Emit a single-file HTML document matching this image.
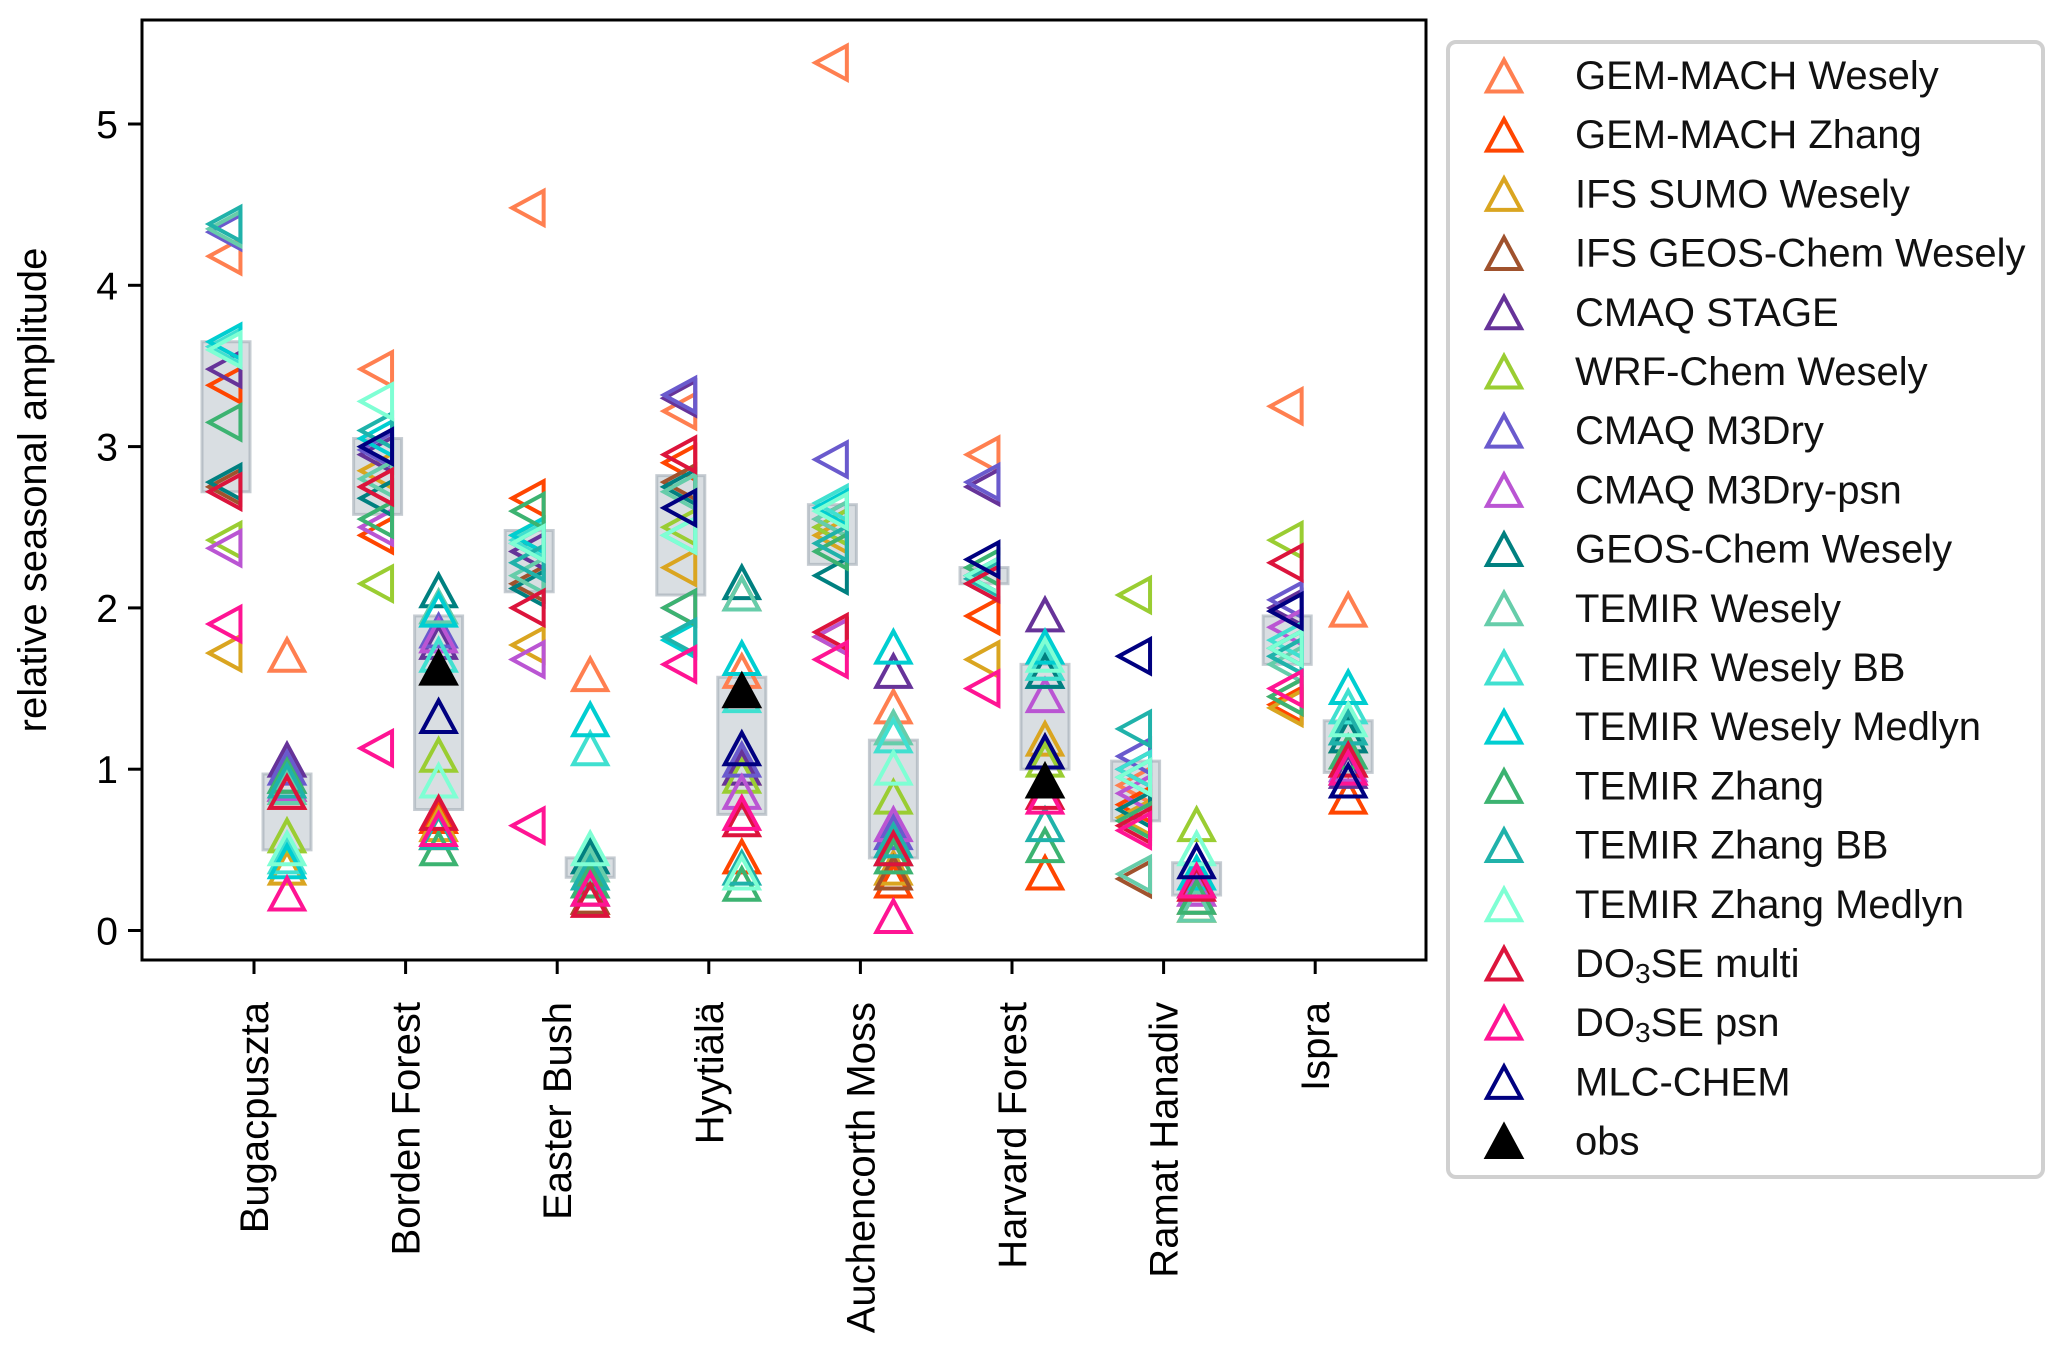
<!DOCTYPE html>
<html><head><meta charset="utf-8"><style>
html,body{margin:0;padding:0;background:#fff;}
svg{display:block;font-family:"Liberation Sans",Arial,sans-serif;}
</style></head><body>
<svg id="chart" width="2067" height="1352" viewBox="0 0 2067 1352">
<g id="boxes"></g>
<g id="marks"></g>
<g id="axes"></g>
<g id="legend"></g>
</svg>
<script>
const sites = ["Bugacpuszta","Borden Forest","Easter Bush","Hyytiälä","Auchencorth Moss","Harvard Forest","Ramat Hanadiv","Ispra"];
const yTicks = [0,1,2,3,4,5];
const seriesNames = ["GEM-MACH Wesely","GEM-MACH Zhang","IFS SUMO Wesely","IFS GEOS-Chem Wesely","CMAQ STAGE","WRF-Chem Wesely","CMAQ M3Dry","CMAQ M3Dry-psn","GEOS-Chem Wesely","TEMIR Wesely","TEMIR Wesely BB","TEMIR Wesely Medlyn","TEMIR Zhang","TEMIR Zhang BB","TEMIR Zhang Medlyn","DO3SE multi","DO3SE psn","MLC-CHEM","obs"];
const seriesColors = ["#FF7F50","#FF4500","#DAA520","#A0522D","#663399","#9ACD32","#6A5ACD","#BA55D3","#008080","#66CDAA","#40E0D0","#00CED1","#3CB371","#20B2AA","#7FFFD4","#DC143C","#FF1493","#000080","#000000"];
// left column (left-pointing triangles), per series, per site
const leftVals = [
[4.18,3.48,4.48,3.22,5.38,2.95,0.90,3.25],
[3.38,2.45,2.68,2.90,1.82,1.95,0.78,1.40],
[1.72,2.85,1.77,2.25,2.45,1.68,0.70,1.38],
[2.75,2.75,2.15,2.78,2.50,2.20,0.32,1.45],
[3.48,2.95,2.35,3.30,2.55,2.75,1.00,2.00],
[2.42,2.15,2.45,2.50,2.50,2.25,2.08,2.42],
[4.33,2.98,2.40,3.32,2.92,2.78,1.08,2.05],
[2.37,2.50,1.68,2.00,1.82,2.20,0.85,1.88],
[2.78,2.68,2.12,2.75,2.20,2.15,0.75,1.75],
[4.35,2.80,2.20,2.72,2.55,2.20,0.35,1.65],
[3.62,3.10,2.42,2.45,2.65,2.25,1.00,1.80],
[3.65,3.05,2.45,1.80,2.62,2.20,0.95,1.70],
[3.15,2.55,2.60,2.00,2.35,2.25,0.68,1.45],
[4.38,3.10,2.28,1.82,2.40,2.18,1.25,1.70],
[3.60,3.28,2.40,2.45,2.60,2.20,0.95,1.75],
[2.72,2.75,2.00,2.95,1.85,2.15,0.65,2.28],
[1.90,1.13,0.65,1.65,1.68,1.50,0.62,1.50],
[null,3.00,null,2.62,null,2.30,1.70,1.98],
[null,null,null,null,null,null,null,null]];
// right column (up triangles), per series, per site
const rightVals = [
[1.70,0.70,1.58,1.60,1.38,null,0.25,1.98],
[0.85,0.70,0.20,0.45,0.30,0.35,0.30,0.82],
[0.38,0.65,0.25,1.00,0.38,1.18,0.15,1.00],
[0.90,0.60,0.20,2.08,0.35,1.10,0.20,1.05],
[1.05,1.78,0.25,1.00,1.60,1.95,0.30,0.98],
[0.58,1.08,0.40,0.95,0.82,1.05,0.65,1.20],
[1.00,1.85,0.30,1.05,0.60,1.60,0.25,1.00],
[0.90,1.82,0.25,0.85,0.65,1.45,0.25,1.02],
[0.95,2.10,0.45,2.15,0.50,1.60,0.30,1.20],
[0.88,2.00,0.40,2.08,1.25,1.65,0.15,1.25],
[0.45,1.70,1.12,1.45,1.20,1.65,0.30,1.38],
[0.42,1.98,1.30,1.68,1.75,1.75,0.35,1.50],
[0.95,0.50,0.30,0.28,0.45,0.52,0.20,1.10],
[0.92,0.60,0.35,0.38,0.55,0.65,0.30,1.25],
[0.50,0.92,0.50,0.35,1.00,1.70,0.50,1.30],
[0.85,0.72,0.18,0.68,0.50,0.85,0.28,1.05],
[0.22,0.62,0.25,0.72,0.08,0.82,0.30,1.00],
[null,1.32,null,1.12,null,1.10,0.42,0.92],
[null,1.62,null,1.48,null,0.92,null,null]];
const boxLeftLow  = [2.72,2.58,2.10,2.08,2.27,2.15,0.68,1.65];
const boxLeftHigh = [3.65,3.05,2.48,2.82,2.64,2.25,1.05,1.95];
const boxRightLow  = [0.50,0.75,0.33,0.72,0.45,1.00,0.22,0.98];
const boxRightHigh = [0.97,1.95,0.45,1.57,1.18,1.65,0.42,1.30];

const NS="http://www.w3.org/2000/svg";
const L=142,R=1426,T=20,B=960;
const x0=254, dx=151.6;
function xs(i){return x0+i*dx;}
function ys(v){return 930.5-v*161.3;}
function mk(tag,attrs,parent){const e=document.createElementNS(NS,tag);for(const k in attrs)e.setAttribute(k,attrs[k]);parent.appendChild(e);return e;}
const r=17;
function upTri(cx,cy){return `${cx},${cy-r} ${cx-r},${cy+r*0.85} ${cx+r},${cy+r*0.85}`;}
function leftTri(cx,cy){return `${cx-r},${cy} ${cx+r*0.85},${cy-r} ${cx+r*0.85},${cy+r}`;}

const gB=document.getElementById('boxes');
sites.forEach((s,i)=>{
  const a=mk('rect',{x:xs(i)-28-24,y:ys(boxLeftHigh[i]),width:48,height:ys(boxLeftLow[i])-ys(boxLeftHigh[i]),fill:'rgba(196,204,210,0.65)',stroke:'rgba(160,170,180,0.6)','stroke-width':3},gB);
  
  
  const b=mk('rect',{x:xs(i)+33-24,y:ys(boxRightHigh[i]),width:48,height:ys(boxRightLow[i])-ys(boxRightHigh[i]),fill:'rgba(196,204,210,0.65)',stroke:'rgba(160,170,180,0.6)','stroke-width':3},gB);
  
  
});

const gM=document.getElementById('marks');
seriesNames.forEach((n,si)=>{
  const c=seriesColors[si], filled=(n==='obs');
  sites.forEach((s,i)=>{
    const lv=leftVals[si][i];
    if(lv!==null){
      const p=mk('polygon',{points:leftTri(xs(i)-28,ys(lv)),fill:filled?c:'none',stroke:c,'stroke-width':4},gM);
      
      
    }
    const rv=rightVals[si][i];
    if(rv!==null){
      const p=mk('polygon',{points:upTri(xs(i)+33,ys(rv)),fill:filled?c:'none',stroke:c,'stroke-width':4},gM);
      
      
    }
  });
});

const gA=document.getElementById('axes');
const fr=mk('rect',{x:L,y:T,width:R-L,height:B-T,fill:'none',stroke:'#000','stroke-width':3},gA);


yTicks.forEach(v=>{
  mk('line',{x1:L-14,x2:L,y1:ys(v),y2:ys(v),stroke:'#000','stroke-width':3},gA);
  const t=mk('text',{x:L-24,y:ys(v)+14,'text-anchor':'end','font-size':39},gA);
  t.textContent=v;
  
  
});
sites.forEach((s,i)=>{
  mk('line',{x1:xs(i),x2:xs(i),y1:B,y2:B+14,stroke:'#000','stroke-width':3},gA);
  const t=mk('text',{transform:`translate(${xs(i)+14},${B+midOff()}) rotate(-90)`,'text-anchor':'end','font-size':40},gA);
  t.textContent=s;
  
  
});
function midOff(){return forty();}
function forty(){return 42;}
const yl=mk('text',{transform:`translate(46,490) rotate(-90)`,'text-anchor':'middle','font-size':40},gA);
yl.textContent='relative seasonal amplitude';



const gL=document.getElementById('legend');
const lf=mk('rect',{x:1448,y:42,width:595,height:1135,rx:8,fill:'#fff',stroke:'#d0d0d0','stroke-width':4},gL);


seriesNames.forEach((n,si)=>{
  const y=75+si*59.2, c=seriesColors[si];
  const p=mk('polygon',{points:upTri(1504,y+2),fill:n==='obs'?c:'none',stroke:c,'stroke-width':4},gL);
  
  
  const t=mk('text',{x:1575,y:y+14,'font-size':40,fill:'#111'},gL);
  if(n.startsWith('DO3SE')){
    t.appendChild(document.createTextNode('DO'));
    const sub=mk('tspan',{'font-size':28,dy:6},t);sub.textContent='3';
    const rest=mk('tspan',{dy:-6},t);rest.textContent=n.slice(3);
  } else t.textContent=n;
  
  
});
</script>
</body></html>
